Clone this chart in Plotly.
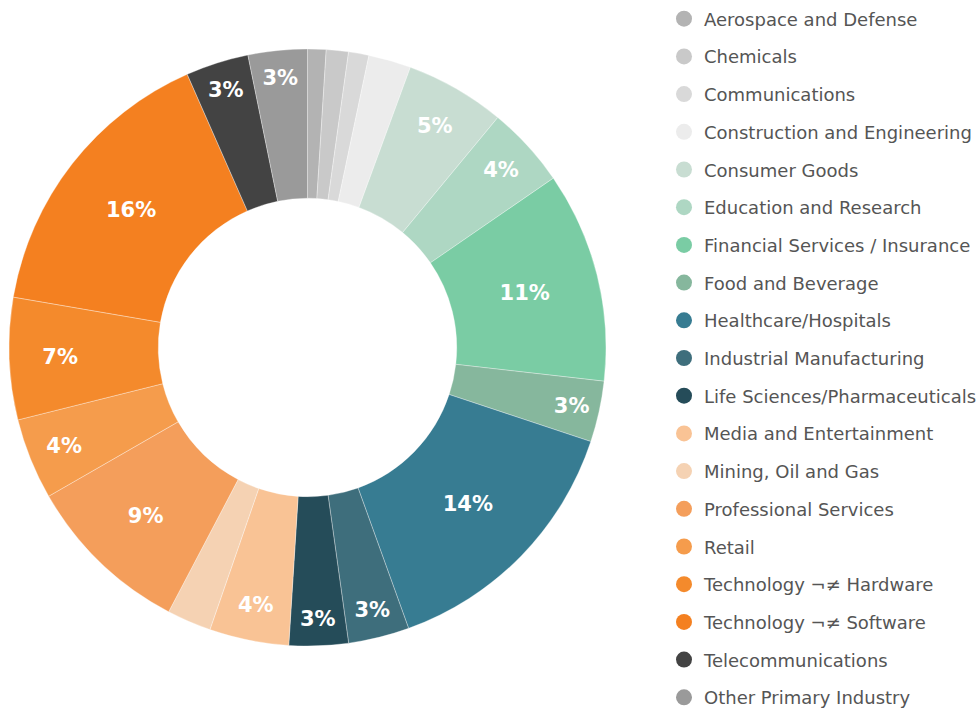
import plotly.graph_objects as go

# Share of respondents by primary industry (percent)
industries = [
    "Aerospace and Defense",
    "Chemicals",
    "Communications",
    "Construction and Engineering",
    "Consumer Goods",
    "Education and Research",
    "Financial Services / Insurance",
    "Food and Beverage",
    "Healthcare/Hospitals",
    "Industrial Manufacturing",
    "Life Sciences/Pharmaceuticals",
    "Media and Entertainment",
    "Mining, Oil and Gas",
    "Professional Services",
    "Retail",
    "Technology \u00ac\u2260 Hardware",
    "Technology \u00ac\u2260 Software",
    "Telecommunications",
    "Other Primary Industry",
]
shares = [1.0, 1.2, 1.1, 2.3, 5.4, 4.4, 11.4, 3.3, 14.4, 3.3,
          3.2, 4.3, 2.4, 9.0, 4.4, 6.6, 15.7, 3.4, 3.2]
colors = [
    "#b3b3b3", "#c9c9c9", "#d9d9d9", "#ececec", "#c8ddd2", "#aed7c3",
    "#7acca4", "#86b79d", "#377c92", "#3e6e7c", "#254c59", "#f9c395",
    "#f5d2b3", "#f49e5b", "#f59c4c", "#f48a2c", "#f48020", "#434343",
    "#9a9a9a",
]

# slices under 3% carry no label
templates = ["%{percent:.0%}" if v >= 3 else "" for v in shares]

fig = go.Figure()
fig.add_trace(go.Pie(
    labels=industries,
    values=shares,
    sort=False,
    direction="clockwise",
    rotation=0,
    hole=0.5,
    marker=dict(colors=colors, line=dict(color="rgba(255,255,255,0.55)", width=0.6)),
    texttemplate=templates,
    textposition="inside",
    insidetextorientation="horizontal",
    textfont=dict(family="DejaVu Sans", size=21, color="white", weight="bold"),
    showlegend=False,
    domain=dict(x=[9 / 979, 606 / 979], y=[62 / 708, 659 / 708]),
    hoverinfo="label+percent",
))

# circular legend markers, one group per industry
for name, col in zip(industries, colors):
    fig.add_trace(go.Scatter(
        x=[None], y=[None], mode="markers", name=name,
        legendgroup=name,
        marker=dict(symbol="circle", size=16, color=col),
        showlegend=True,
    ))

fig.update_layout(
    width=979,
    height=708,
    margin=dict(l=0, r=0, t=0, b=0, autoexpand=False),
    paper_bgcolor="white",
    plot_bgcolor="white",
    xaxis=dict(visible=False),
    yaxis=dict(visible=False),
    font=dict(family="DejaVu Sans", color="#555555"),
    legend=dict(
        x=664 / 979, xanchor="left",
        y=1 - 0.5 / 708, yanchor="top",
        font=dict(family="DejaVu Sans", size=18, color="#555555"),
        tracegroupgap=11.3,
        maxheight=1000,
        bgcolor="rgba(0,0,0,0)",
        itemclick=False, itemdoubleclick=False,
    ),
)

fig.write_html("out.html")
